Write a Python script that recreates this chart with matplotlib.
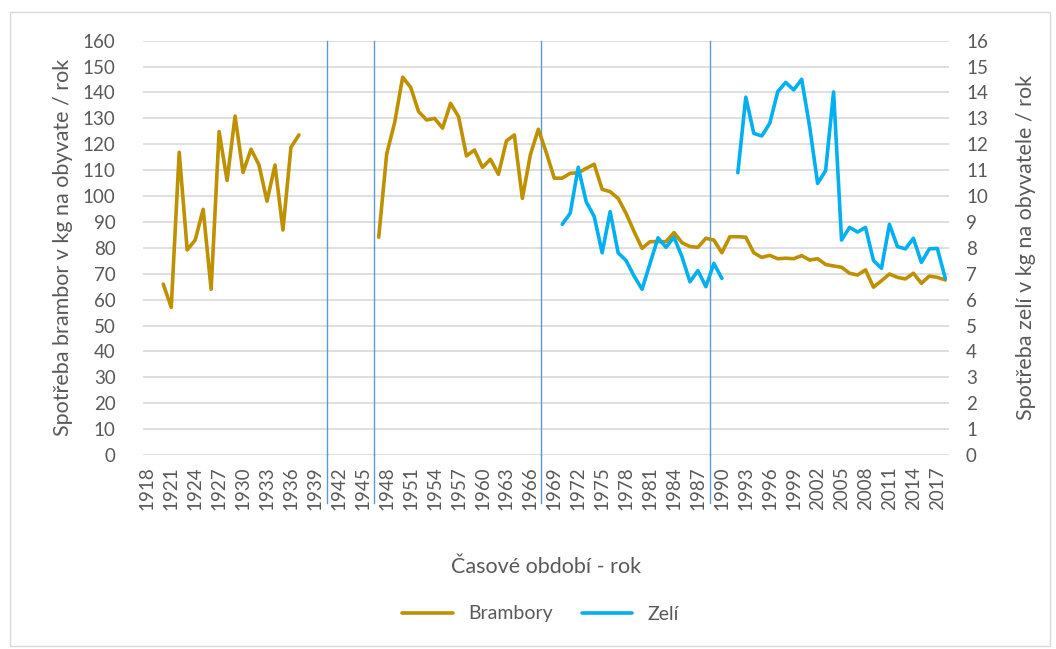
import numpy as np
import matplotlib.pyplot as plt
from matplotlib.patches import Rectangle

plt.rcParams["font.family"] = ["Lato", "DejaVu Sans"]

# Years on the category axis
years = np.arange(1918, 2019)

# Potato consumption (kg per person / year), gaps where no data
brambory_years = (
    list(range(1920, 1938)) + list(range(1947, 2019))
)
brambory_values = [
    66.0, 57.0, 116.9, 79.2, 83.0, 94.9, 64.0, 124.9, 106.0, 130.9,
    109.1, 118.1, 112.0, 98.0, 112.0, 86.9, 118.8, 123.6,
    84.1, 116.3, 128.4, 145.9, 142.0, 132.6, 129.4, 130.0, 126.2, 135.8,
    130.7, 115.5, 117.8, 111.1, 114.2, 108.4, 121.3, 123.6, 99.1, 115.9,
    125.8, 116.8, 106.9, 106.9, 108.8, 109.0, 110.7, 112.3, 102.6, 101.7,
    99.1, 93.3, 86.3, 79.8, 82.4, 82.4, 82.4, 85.9, 82.0, 80.5,
    80.2, 83.7, 83.0, 78.1, 84.3, 84.3, 84.1, 78.1, 76.3, 77.1,
    75.8, 76.0, 75.8, 77.0, 75.3, 75.8, 73.6, 73.0, 72.5, 70.2,
    69.5, 71.5, 64.8, 67.3, 69.9, 68.6, 68.0, 70.2, 66.3, 69.1,
    68.6, 67.6,
]

# Cabbage consumption (kg per person / year)
zeli_years = list(range(1970, 1991)) + list(range(1992, 2019))
zeli_values = [
    8.91, 9.34, 11.11, 9.78, 9.21, 7.81, 9.40, 7.81, 7.51, 6.91,
    6.40, 7.40, 8.39, 8.02, 8.41, 7.66, 6.69, 7.12, 6.50, 7.40, 6.82,
    10.90, 13.82, 12.42, 12.32, 12.81, 14.03, 14.39, 14.10, 14.51, 12.68,
    10.49, 10.98, 14.02, 8.30, 8.79, 8.61, 8.79, 7.51, 7.21, 8.91,
    8.05, 7.96, 8.37, 7.44, 7.96, 7.98, 6.82,
]

# Period separators drawn as thin vertical lines
period_breaks = [1940.5, 1946.4, 1967.3, 1988.5]

x_ticks = list(range(1918, 2018, 3))


def to_series(yrs, vals):
    s = np.full(len(years), np.nan)
    for yr, v in zip(yrs, vals):
        s[yr - years[0]] = v
    return s


brambory = to_series(brambory_years, brambory_values)
zeli = to_series(zeli_years, zeli_values)

fig = plt.figure(figsize=(10.56, 6.49), dpi=100)
fig.patches.append(
    Rectangle((10 / 1056, 3 / 649), 1040 / 1056, 634 / 649,
              transform=fig.transFigure, fill=False,
              edgecolor="#D9D9D9", linewidth=1)
)

ax = fig.add_axes([143.3 / 1056, 1 - 455 / 649,
                   806 / 1056, (455 - 40.7) / 649])
ax2 = ax.twinx()

gold = "#BF9000"
blue = "#00B0F0"
text_col = "#595959"

ax.set_ylim(0, 160)
ax.set_yticks(range(0, 161, 10))
ax.grid(axis="y", color="#D9D9D9", linewidth=1.2)
ax.set_axisbelow(True)
ax.set_xlim(1917.5, 2018.5)
ax.set_xticks(x_ticks)
ax.set_xticklabels([str(t) for t in x_ticks], rotation=90)

for b in period_breaks:
    ax.axvline(b, ymin=0, ymax=1, color="#5B9BD5", linewidth=1,
               clip_on=False)
    ax.plot([b, b], [0, -0.115 * 160], color="#5B9BD5", linewidth=1,
            clip_on=False)

l1, = ax.plot(years, brambory, color=gold, linewidth=2.6,
              solid_capstyle="round", solid_joinstyle="round",
              label="Brambory")
l2, = ax2.plot(years, zeli, color=blue, linewidth=2.6,
               solid_capstyle="round", solid_joinstyle="round",
               label="Zelí")

ax2.set_ylim(0, 16)
ax2.set_yticks(range(0, 17))

for a in (ax, ax2):
    for sp in a.spines.values():
        sp.set_visible(False)
    a.tick_params(length=0, labelsize=13.5, colors=text_col)
ax.tick_params(axis="y", pad=20)
ax.tick_params(axis="x", pad=8)
ax2.tick_params(axis="y", pad=12)

ax.set_ylabel("Spotřeba brambor v kg na obyvate / rok", fontsize=15.5,
              color=text_col, labelpad=7)
ax2.set_ylabel("Spotřeba zelí v kg na obyvatele / rok", fontsize=15.5,
               color=text_col, rotation=90, labelpad=20)
ax.set_xlabel("Časové období - rok", fontsize=15.5, color=text_col,
              labelpad=34)

fig.legend(handles=[l1, l2], loc="center", bbox_to_anchor=(0.512, 1 - 614 / 649),
           ncol=2, frameon=False, fontsize=14, labelcolor=text_col,
           handlelength=2.6, columnspacing=1.5)

fig.savefig("out.png", dpi=100)
